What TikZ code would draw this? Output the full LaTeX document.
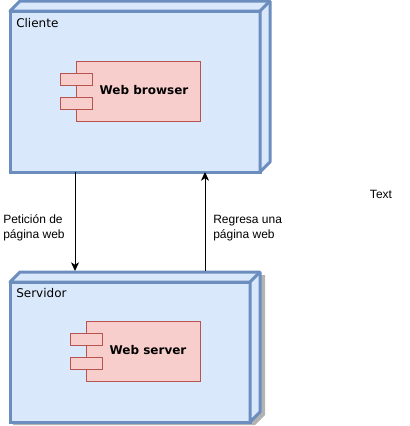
\documentclass[tikz,border=0pt]{standalone}
\usepackage{fontspec}
\setmainfont{DejaVu Sans}
\newfontfamily\arialfont{Liberation Sans}
\usepackage{xcolor}
\usepackage{tikz}
\usetikzlibrary{arrows.meta}

\definecolor{nodefill}{RGB}{218,232,252}
\definecolor{nodeline}{RGB}{108,142,191}
\definecolor{compfill}{RGB}{248,206,204}
\definecolor{compline}{RGB}{184,84,80}
\definecolor{shadowgray}{RGB}{179,179,179}

\tikzset{
  nodebox/.style={draw=nodeline, fill=nodefill, line width=2.25pt, inner sep=0pt, outer sep=0pt},
  nodeface/.style={draw=nodeline, fill=nodefill, line width=2.25pt, line join=round},
  compbox/.style={draw=compline, fill=compfill, line width=0.75pt, inner sep=0pt, outer sep=0pt},
  nodetitle/.style={anchor=west, inner sep=0pt, font=\fontsize{9}{11}\selectfont},
  comptitle/.style={inner sep=0pt, font=\fontsize{9}{11}\selectfont\bfseries},
  msglabel/.style={anchor=west, align=left, inner sep=0pt, font=\arialfont\fontsize{9}{11.25}\selectfont},
  msgline/.style={-{Stealth[length=6.5pt, width=6pt, inset=1.8pt]}, line width=0.75pt}
}

\begin{document}
\begin{tikzpicture}[x=0.75pt,y=0.75pt,yscale=-1,xscale=1]
        \useasboundingbox (0,0) rectangle (410,426);
        % cliente
        \node[nodebox, minimum width=187.5pt, minimum height=120.75pt] (cliente) at (135,91.5) {};
        \draw[nodeface] (cliente.north west) -- ++(10,-10) -- ++(250,0) -- ++(0,161) -- (cliente.south east) -- (cliente.north east) -- cycle;
        \draw[nodeface] (cliente.north east) -- ++(10,-10);
        \node[nodetitle] (clientetxt) at (16,23) {Cliente};
        \node[compbox, minimum width=93pt, minimum height=45pt] (browser) at (138,91) {};
        \node[compbox, minimum width=24pt, minimum height=9pt] (browserpa) at (76,79) {};
        \node[compbox, minimum width=24pt, minimum height=9pt] (browserpb) at (76,103) {};
        \node[comptitle] (browsertxt) at (144,90) {Web browser};
        % servidor
        \fill[shadowgray] (13,285) -- (23,275) -- (265,275) -- (265,415) -- (255,425) -- (13,425) -- cycle;
        \node[nodebox, minimum width=180pt, minimum height=105pt] (servidor) at (130,352) {};
        \draw[nodeface] (servidor.north west) -- ++(10,-10) -- ++(240,0) -- ++(0,140) -- (servidor.south east) -- (servidor.north east) -- cycle;
        \draw[nodeface] (servidor.north east) -- ++(10,-10);
        \node[nodetitle] (servidortxt) at (16,293) {Servidor};
        \node[compbox, minimum width=85.5pt, minimum height=45pt] (webserver) at (143,351) {};
        \node[compbox, minimum width=24pt, minimum height=9pt] (webserverpa) at (86,339) {};
        \node[compbox, minimum width=24pt, minimum height=9pt] (webserverpb) at (86,363) {};
        \node[comptitle] (webservertxt) at (148,350) {Web server};
        % mensajes
        \coordinate (pedido) at (75,0);
        \coordinate (respuesta) at (205,0);
        \coordinate (servtop) at (0,271);
        \draw[msgline] (cliente.south -| pedido) -- (servtop -| pedido);
        \draw[msgline] (servtop -| respuesta) -- (cliente.south -| respuesta);
        \node[msglabel] (pedidotxt) at (3,228) {Petición de\\página web};
        \node[msglabel] (respuestatxt) at (213,228) {Regresa una\\página web};
        \node[inner sep=0pt, font=\arialfont\fontsize{9}{11}\selectfont] (texto) at (381,194) {Text};
\end{tikzpicture}
\end{document}
